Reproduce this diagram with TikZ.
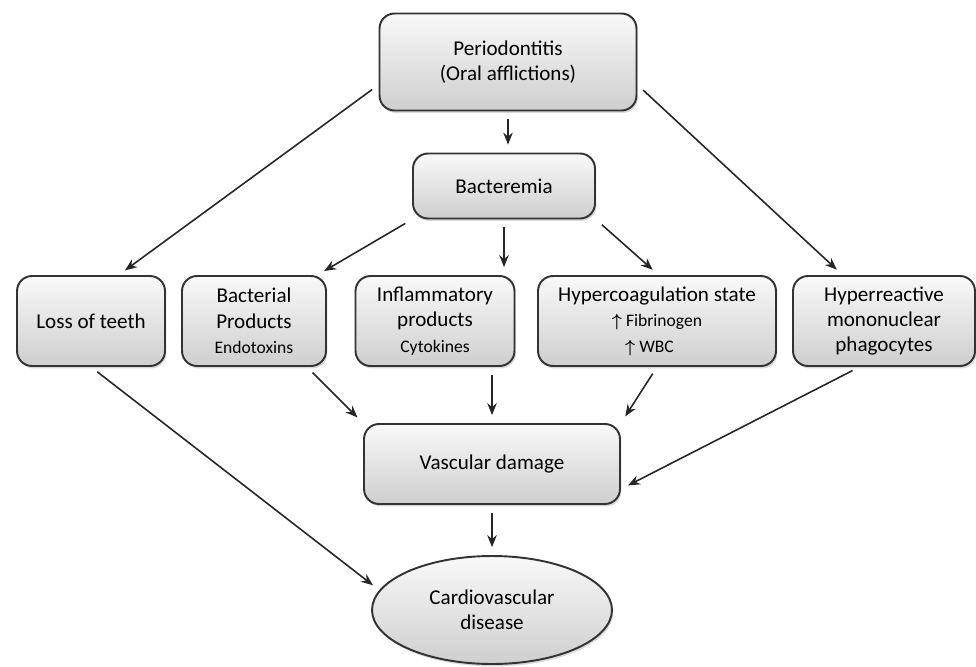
\documentclass[tikz,border=0pt]{standalone}
\usepackage{fontspec}
\setmainfont{Carlito}
\usetikzlibrary{shapes.geometric,shadows,arrows.meta}
\newcommand{\subtxt}{\fontsize{10}{12.5}\selectfont}
\newcommand{\uparr}{{\boldmath$\uparrow$}}

\begin{document}
\begin{tikzpicture}[x=0.02cm, y=-0.02cm,
  box/.style={draw=black!80, line width=1.1pt, rounded corners=0.3cm,
    top color=gray!5, bottom color=gray!38, align=center, inner sep=1pt,
    drop shadow={shadow xshift=0.8pt, shadow yshift=-1.4pt, opacity=0.3},
    font=\fontsize{12}{14.5}\selectfont, text=black},
  oval/.style={box, ellipse, rounded corners=0pt},
  link/.style={-{Stealth[length=2.4mm,width=1.9mm]}, line width=0.9pt,
    black!85, shorten <=4.5pt, shorten >=4.5pt}]

\useasboundingbox (0,0) rectangle (976,666);

\draw (508,62) node[box, minimum width=5.14cm, minimum height=1.94cm] (peri) {Periodontitis\\(Oral afflictions)};
\draw (504,186) node[box, minimum width=3.64cm, minimum height=1.30cm] (bact) {Bacteremia};

\draw (91,321) node[box, minimum width=2.96cm, minimum height=1.80cm] (loss) {Loss of teeth};
\draw (254,321) node[box, minimum width=2.88cm, minimum height=1.80cm] (bprod) {Bacterial\\Products\\{\subtxt Endotoxins}};
\draw (435,321) node[box, minimum width=3.18cm, minimum height=1.80cm] (infl) {Inflammatory\\products\\{\subtxt Cytokines}};
\draw (657,321) node[box, minimum width=4.76cm, minimum height=1.80cm] (hc) {Hypercoagulation state\\{\subtxt \uparr\ Fibrinogen}\hspace*{0.3cm}\\{\subtxt \uparr\ WBC}\hspace*{0.3cm}};
\draw (884,321) node[box, minimum width=3.64cm, minimum height=1.80cm] (hyp) {Hyperreactive\\mononuclear\\phagocytes};

\draw (492,464) node[box, minimum width=5.12cm, minimum height=1.60cm] (vasc) {Vascular damage};
\draw (492,610) node[oval, minimum width=4.80cm, minimum height=2.16cm] (cardio) {Cardiovascular\\disease};

\draw[link] (peri.190) -- (loss.59);
\draw[link] (peri.south) -- (peri.south |- bact.north);
\draw[link] (peri.350) -- (hyp.132);
\draw[link] (bact.south west) -- (bprod.36);
\draw[link] (bact.south) -- (bact.south |- infl.north);
\draw[link] (bact.south east) -- (hc.88);

\draw[link] (bprod.-41) -- (vasc.north west);
\draw[link] (infl.south -| vasc.north) -- (vasc.north);
\draw[link] (hc.south) -- (vasc.north east);
\draw[link] (hyp.242) -- (vasc.-11);

\draw[link] (vasc.south) -- (cardio.north);
\draw[link] (loss.south) -- (cardio.170);

\end{tikzpicture}
\end{document}
